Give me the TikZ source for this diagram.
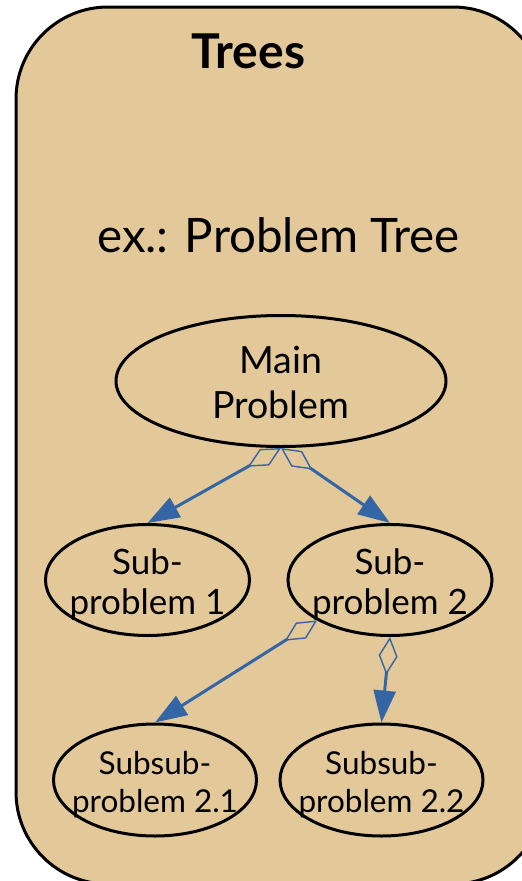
\documentclass[tikz,border=0pt]{standalone}
\usepackage{fontspec}
\setmainfont{Lato}
\usetikzlibrary{shapes.geometric,arrows.meta}
\definecolor{bgtan}{RGB}{227,201,154}
\definecolor{edgeblue}{RGB}{52,101,164}
\begin{document}
\begin{tikzpicture}[x=1pt,y=-1pt,
  prob/.style={draw=black, line width=3pt, ellipse, inner sep=0pt},
  ptext/.style={inner sep=0pt, align=center},
  link/.style={draw=edgeblue, line width=3pt,
    {Diamond[open,length=38pt,width=19pt,line width=1.4pt]}-{Triangle[length=32pt,width=22pt]}}
]
\clip (0,0) rectangle (522,881);
\draw[fill=bgtan, line width=3pt, rounded corners=92pt] (16,7) rectangle (545,884);
\node[anchor=base, font=\fontsize{48}{56}\selectfont\bfseries] (title) at (248.5,68) {Trees};
\node[anchor=base, font=\fontsize{47.5}{56}\selectfont] (sub) at (278.5,252) {ex.: Problem Tree};
\node[prob, minimum width=330pt, minimum height=131pt] (main) at (281,381) {};
\node[prob, minimum width=204pt, minimum height=111pt] (sub1) at (147.5,580) {};
\node[prob, minimum width=204pt, minimum height=111pt] (sub2) at (390,580) {};
\node[prob, minimum width=203pt, minimum height=112pt] (ss1) at (155,780) {};
\node[prob, minimum width=203pt, minimum height=112pt] (ss2) at (381.5,780) {};
\node[ptext, font=\fontsize{37.5}{45}\selectfont] (maint) at (281,382) {Main\\Problem};
\node[ptext, font=\fontsize{35}{40}\selectfont] (sub1t) at (147.5,585) {Sub-\\problem 1};
\node[ptext, font=\fontsize{35}{40}\selectfont] (sub2t) at (390,585) {Sub-\\problem 2};
\node[ptext, font=\fontsize{31.5}{38}\selectfont] (ss1t) at (155,785) {Subsub-\\problem 2.1};
\node[ptext, font=\fontsize{31.5}{38}\selectfont] (ss2t) at (381.5,785) {Subsub-\\problem 2.2};
\draw[link] (main.south) -- (sub1.north);
\draw[link] (main.south) -- (sub2.north);
\draw[link] (sub2.209) -- (ss1.north);
\draw[link] (sub2.south) -- (ss2.north);
\end{tikzpicture}
\end{document}
